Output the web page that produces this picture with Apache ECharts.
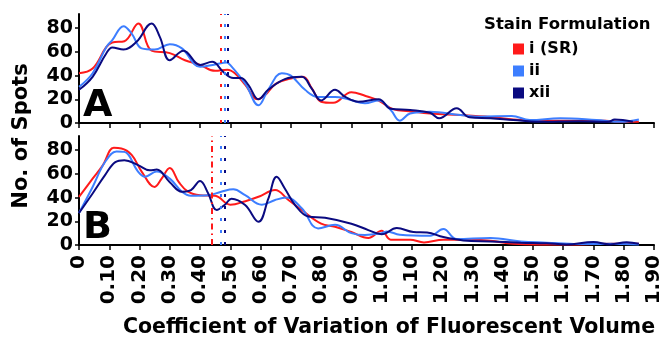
<!DOCTYPE html>
<html>
<head>
<meta charset="utf-8">
<script src="https://cdn.jsdelivr.net/npm/echarts@6/dist/echarts.min.js"></script>
<style>html,body{margin:0;padding:0;background:#fff}#c{width:666px;height:338px}</style>
</head>
<body>
<div id="c"></div>
<script>
const seriesNames = ['i (SR)', 'ii', 'xii'];
const colors = ['#ff1a1a', '#3d7eff', '#0a0a80'];
const xTicks = [0,0.1,0.2,0.3,0.4,0.5,0.6,0.7,0.8,0.9,1.0,1.1,1.2,1.3,1.4,1.5,1.6,1.7,1.8,1.9];
const yTicks = [0,20,40,60,80];

// Panel A
const aRed = [[0,42],[0.045,46],[0.09,64],[0.11,68],[0.15,69],[0.196,84],[0.24,61],[0.3,59],[0.35,53],[0.4,49],[0.45,44],[0.49,45],[0.515,42],[0.55,32],[0.59,20],[0.615,23.6],[0.65,33],[0.7,37.6],[0.74,39],[0.77,29],[0.8,18],[0.84,17],[0.9,26],[0.945,23],[0.99,19],[1.04,11.5],[1.09,10],[1.16,8],[1.26,6.7],[1.36,5],[1.46,2.5],[1.55,2],[1.61,2],[1.74,2],[1.79,1],[1.85,1]];
const aBlue = [[0,30.5],[0.045,42],[0.09,64],[0.11,70],[0.147,81.7],[0.174,75.5],[0.207,63],[0.25,62],[0.3,66.5],[0.34,63],[0.4,47.4],[0.45,49.4],[0.488,51],[0.5,48.8],[0.55,33],[0.593,15],[0.625,28],[0.67,42],[0.7,40],[0.747,28],[0.79,22],[0.846,22],[0.89,20],[0.945,16.6],[0.99,19],[1.03,11],[1.06,2],[1.094,8],[1.16,9.5],[1.26,6.7],[1.325,5.3],[1.43,6],[1.49,2.5],[1.59,4],[1.71,2.5],[1.79,1],[1.85,3]];
const aNavy = [[0,28],[0.045,39],[0.09,58.7],[0.11,63.7],[0.147,62],[0.19,68.5],[0.24,84],[0.267,72.7],[0.3,53],[0.345,61],[0.4,49],[0.44,51.6],[0.477,43],[0.51,38],[0.535,38],[0.56,32],[0.593,20],[0.625,28],[0.68,37],[0.736,39],[0.769,29],[0.8,19],[0.846,28],[0.88,22],[0.923,18],[0.99,20],[1.03,12],[1.094,11],[1.16,8.7],[1.19,4],[1.248,12.4],[1.29,4.8],[1.36,4],[1.435,2.5],[1.52,1],[1.65,1.5],[1.75,1],[1.77,3],[1.83,1]];
const aMeans = [0.473, 0.483, 0.488];

// Panel B
const bRed = [[0,40.7],[0.045,56],[0.078,67],[0.115,82],[0.14,81.5],[0.174,76],[0.207,62],[0.25,49],[0.273,56],[0.3,65],[0.33,53],[0.36,45],[0.4,42],[0.45,41.5],[0.5,34],[0.55,37],[0.593,40.7],[0.648,46.4],[0.692,38],[0.736,29.5],[0.8,18],[0.846,15.4],[0.9,11],[0.956,6],[1.0,12],[1.03,4.5],[1.094,4.5],[1.14,2.2],[1.204,4.5],[1.3,4.5],[1.36,3.6],[1.435,1],[1.52,0.5],[1.65,0.5],[1.76,1],[1.85,1]];
const bBlue = [[0,27],[0.045,49],[0.086,70],[0.124,79],[0.15,78.6],[0.195,62],[0.218,57.6],[0.257,62],[0.3,56],[0.34,45],[0.37,41.6],[0.427,42],[0.47,45],[0.51,47],[0.549,42],[0.604,34],[0.648,38],[0.686,40],[0.736,31],[0.79,14],[0.846,17],[0.9,10],[0.945,8.4],[1.0,10],[1.017,11.5],[1.06,8.7],[1.16,7.8],[1.204,13.5],[1.248,5],[1.36,6],[1.46,3],[1.545,2],[1.65,0.8],[1.76,1],[1.85,0.5]];
const bNavy = [[0,27],[0.045,43.5],[0.086,59],[0.12,70],[0.15,71.6],[0.195,67.4],[0.234,63],[0.257,63.7],[0.3,53],[0.34,45],[0.37,46.4],[0.4,54],[0.427,43.5],[0.455,29.5],[0.482,34],[0.504,39],[0.549,33.7],[0.593,19.6],[0.626,39.3],[0.653,57.6],[0.68,47.7],[0.714,33.7],[0.758,24],[0.813,23],[0.9,18],[0.956,12.6],[1.0,9],[1.05,14.3],[1.105,11],[1.15,10.6],[1.204,6.7],[1.27,3.9],[1.36,3],[1.46,2],[1.545,1.5],[1.61,0.5],[1.7,2.5],[1.755,0.5],[1.81,2.3],[1.85,1]];
const bMeans = [0.44, 0.468, 0.482];

const FONT = 'DejaVu Sans';
const chart = echarts.init(document.getElementById('c'));

function xAxis(gi, showLabels) {
  return {
    type: 'value', gridIndex: gi, min: 0, max: 1.9, interval: 0.1,
    axisLine: { lineStyle: { color: '#000', width: 2 } },
    axisTick: { show: true, length: 5, lineStyle: { color: '#000', width: 1.5 } },
    splitLine: { show: false },
    axisLabel: {
      show: showLabels, rotate: 90, margin: 10, hideOverlap: false,
      color: '#000', fontFamily: FONT, fontWeight: 'bold', fontSize: 20,
      formatter: v => (Math.abs(v) < 1e-9 ? '0' : v.toFixed(2))
    }
  };
}
function yAxis(gi) {
  return {
    type: 'value', gridIndex: gi, min: 0, max: 92,
    axisLine: { show: true, lineStyle: { color: '#000', width: 2 } },
    axisTick: { show: true, length: 4, customValues: yTicks, lineStyle: { color: '#000', width: 1.5 } },
    splitLine: { show: false },
    axisLabel: {
      customValues: yTicks, margin: 6, color: '#000',
      fontFamily: FONT, fontWeight: 'bold', fontSize: 19
    }
  };
}
function line(name, data, color, gi, mean, dash) {
  return {
    name, type: 'line', xAxisIndex: gi, yAxisIndex: gi, data,
    smooth: 0.4, symbol: 'none', z: color === colors[2] ? 3 : 2,
    lineStyle: { color, width: 2 }, itemStyle: { color },
    markLine: {
      silent: true, symbol: 'none', label: { show: false },
      lineStyle: { color, width: 2, type: dash, opacity: 1 },
      data: [{ xAxis: mean }]
    }
  };
}

const dotted = [3, 9];
chart.setOption({
  animation: false,
  grid: [
    { left: 79, right: 12, top: 14, height: 109 },
    { left: 79, right: 12, top: 136, height: 109 }
  ],
  xAxis: [xAxis(0, false), xAxis(1, true)],
  yAxis: [yAxis(0), yAxis(1)],
  legend: {
    data: seriesNames, orient: 'vertical', left: 508, top: 36,
    icon: 'rect', itemWidth: 11, itemHeight: 11, itemGap: 6,
    textStyle: { fontFamily: FONT, fontWeight: 'bold', fontSize: 16, color: '#000' }
  },
  series: [
    line(seriesNames[0], aRed, colors[0], 0, aMeans[0], dotted),
    line(seriesNames[1], aBlue, colors[1], 0, aMeans[1], dotted),
    line(seriesNames[2], aNavy, colors[2], 0, aMeans[2], dotted),
    line(seriesNames[0], bRed, colors[0], 1, bMeans[0], [6, 4, 1.5, 4]),
    line(seriesNames[1], bBlue, colors[1], 1, bMeans[1], dotted),
    line(seriesNames[2], bNavy, colors[2], 1, bMeans[2], dotted)
  ],
  graphic: [
    { type: 'text', x: 22, y: 136, rotation: Math.PI / 2,
      style: { text: 'No. of Spots', x: 0, y: 0, textAlign: 'center', textVerticalAlign: 'middle',
        font: 'bold 21px "DejaVu Sans"', fill: '#000' } },
    { type: 'text', x: 389, y: 328,
      style: { text: 'Coefficient of Variation of Fluorescent Volume', x: 0, y: 0, textAlign: 'center', textVerticalAlign: 'middle',
        font: 'bold 20.5px "DejaVu Sans"', fill: '#000' } },
    { type: 'text', x: 484, y: 25,
      style: { text: 'Stain Formulation', x: 0, y: 0, textAlign: 'left', textVerticalAlign: 'middle',
        font: 'bold 16.5px "DejaVu Sans"', fill: '#000' } },
    { type: 'text', x: 83, y: 106, z: 10,
      style: { text: 'A', x: 0, y: 0, textAlign: 'left', textVerticalAlign: 'middle',
        font: 'bold 38px "DejaVu Sans"', fill: '#000' } },
    { type: 'text', x: 83, y: 228, z: 10,
      style: { text: 'B', x: 0, y: 0, textAlign: 'left', textVerticalAlign: 'middle',
        font: 'bold 38px "DejaVu Sans"', fill: '#000' } }
  ]
});
</script>
</body>
</html>
